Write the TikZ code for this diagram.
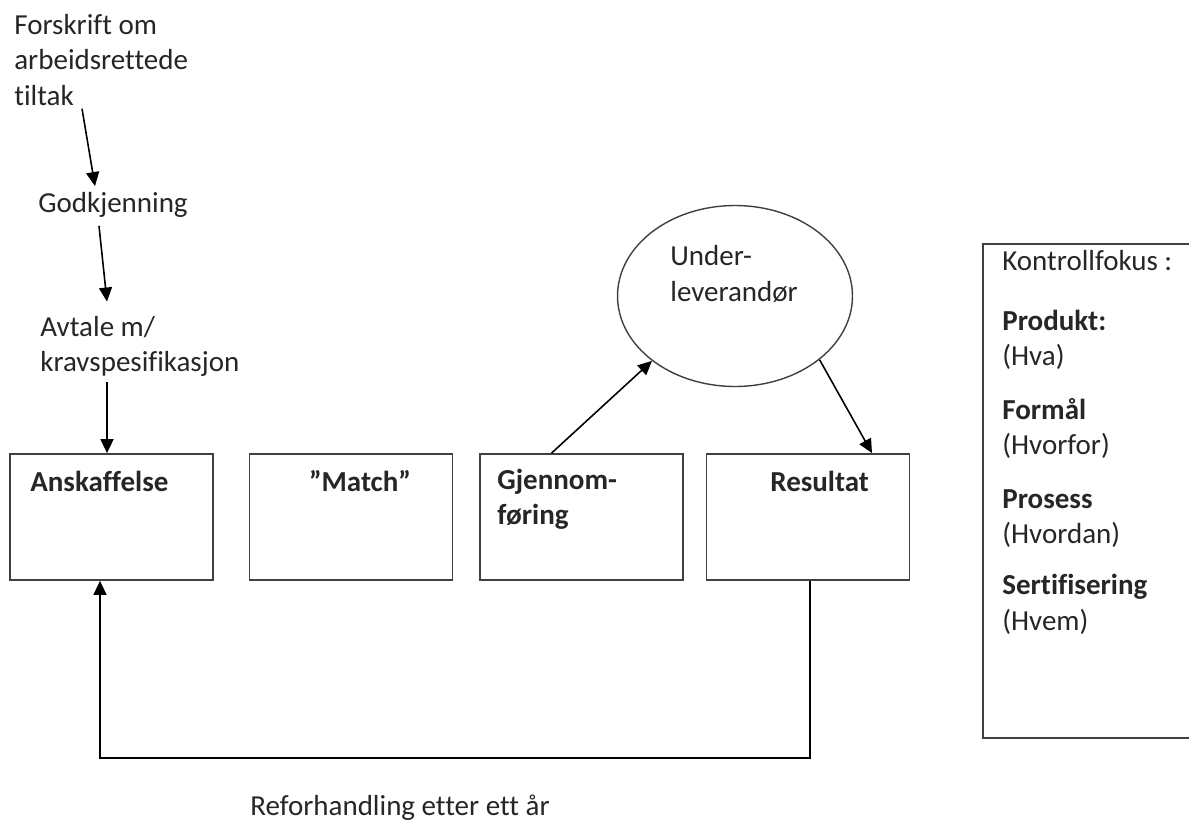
\documentclass[tikz,border=0pt]{standalone}
\usepackage{fontspec}
\setmainfont{Carlito}[Ligatures=NoCommon]
\usetikzlibrary{positioning,shapes.geometric,arrows.meta}

\begin{document}
\begin{tikzpicture}[x=0.02cm,y=-0.02cm,
  boks/.style={draw=black!75,line width=1pt,minimum width=4.06cm,minimum height=2.52cm,inner sep=0pt},
  tekst/.style={inner sep=0pt,align=left,font=\fontsize{16.5}{20}\selectfont,text=black!85},
  pil/.style={line width=0.9pt,-{Triangle[length=0.28cm,width=0.26cm]}}]
  \useasboundingbox (0,0) rectangle (1189,825);
  \clip (0,0) rectangle (1189,825);

  \node [tekst,anchor=west] (f) at (14,60) {Forskrift om\\arbeidsrettede\\tiltak};
  \node [tekst,anchor=west] (g) at (38,205) {Godkjenning};
  \node [tekst,anchor=west] (av) at (40,346) {Avtale m/\\kravspesifikasjon};

  \node [boks] (a) at (111.5,517) {};
  \node [boks] (m) at (351,517) {};
  \node [boks] (gj) at (581.5,517) {};
  \node [boks] (r) at (808,517) {};
  \node [boks,minimum width=4.6cm,minimum height=9.88cm] (k) at (1098,491) {};
  \node [draw=black!75,line width=0.8pt,ellipse,minimum width=4.7cm,minimum height=3.62cm,inner sep=0pt] (u) at (735,296) {};

  \node [tekst,anchor=west,font=\fontsize{16.5}{20}\selectfont\bfseries] (at) at (30,481) {Anskaffelse};
  \node [tekst,font=\fontsize{16.5}{20}\selectfont\bfseries] (mt) at (360,481) {”Match”};
  \node [tekst,anchor=west,font=\fontsize{16.5}{20}\selectfont\bfseries] (gt) at (497,499) {Gjennom-\\føring};
  \node [tekst,anchor=west,font=\fontsize{16.5}{20}\selectfont\bfseries] (rt) at (770,481) {Resultat};
  \node [tekst,anchor=west] (ut) at (670,274) {Under-\\leverandør};
  \node [tekst,anchor=north west] (kt) at (1002,250) {Kontrollfokus :\\[0.5cm]\textbf{Produkt:}\\(Hva)\\[0.37cm]\textbf{Formål}\\(Hvorfor)\\[0.37cm]\textbf{Prosess}\\(Hvordan)\\[0.33cm]\textbf{Sertifisering}\\(Hvem)};
  \node [tekst] (rf) at (400,808) {Reforhandling etter ett år};

  \coordinate (h) at (100,758);

  \draw[pil] ([shift={(68,3)}]f.south west) -- ([shift={(57,-6)}]g.north west);
  \draw[pil] ([shift={(61,8)}]g.south west) -- ([shift={(67,-14)}]av.north west);
  \draw[pil] ([shift={(67,6)}]av.south west) -- ([shift={(-4.5,0)}]a.north);
  \draw[pil] ([shift={(-30,0)}]gj.north) -- (u.218);
  \draw[pil] (u.-37) -- ([shift={(64,0)}]r.north);
  \draw[pil] ([shift={(2,0)}]r.south) |- (h) -- (h |- a.south);

\end{tikzpicture}
\end{document}
